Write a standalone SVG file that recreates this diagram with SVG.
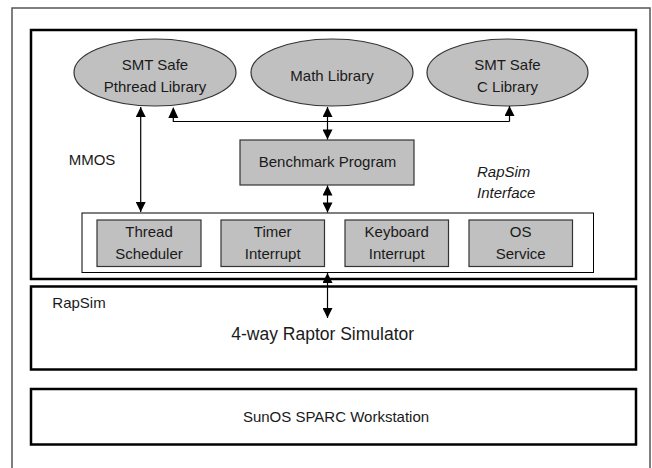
<svg xmlns="http://www.w3.org/2000/svg" width="652" height="468" viewBox="0 0 652 468">
<defs>
<style>
text{font-family:"Liberation Sans",Arial,sans-serif;font-size:15px;fill:#1a1a1a;text-anchor:middle}
.frame{fill:#fff;stroke:#555;stroke-width:1.5}
.thick{fill:none;stroke:#000;stroke-width:2.5}
.thin{fill:#fff;stroke:#000;stroke-width:1}
.gray{fill:#c0c0c0;stroke:#333;stroke-width:1.2}
.conn{fill:none;stroke:#000;stroke-width:1.2}
</style>
<marker id="ah" viewBox="0 0 10 10" refX="10" refY="5" markerWidth="11" markerHeight="10" markerUnits="userSpaceOnUse" orient="auto-start-reverse">
<path d="M0,0 L10,5 L0,10 Z" fill="#000"/>
</marker>
</defs>
<rect class="frame" x="12" y="8" width="638" height="470"/>
<g id="mmos">
<rect class="thick" x="31" y="30" width="605" height="249"/>
<text x="92" y="165">MMOS</text>
</g>
<g id="pthread">
<ellipse class="gray" cx="155" cy="72.5" rx="81" ry="33.5"/>
<text x="155" y="70">SMT Safe</text>
<text x="155" y="92">Pthread Library</text>
</g>
<g id="math">
<ellipse class="gray" cx="332" cy="72.5" rx="81" ry="33.5"/>
<text x="332" y="81">Math Library</text>
</g>
<g id="clib">
<ellipse class="gray" cx="507.5" cy="72.5" rx="80.5" ry="33.5"/>
<text x="507.5" y="70">SMT Safe</text>
<text x="507.5" y="92">C Library</text>
</g>
<g id="benchmark">
<rect class="gray" x="240" y="140" width="174" height="45"/>
<text x="327.5" y="167">Benchmark Program</text>
</g>
<g id="rapsim-interface">
<rect class="thin" x="82" y="213" width="511.5" height="59.5"/>
<text x="477" y="177" style="font-style:italic;text-anchor:start">RapSim</text>
<text x="477" y="198" style="font-style:italic;text-anchor:start">Interface</text>
</g>
<g id="thread">
<rect class="gray" x="97" y="220" width="104" height="46.5"/>
<text x="149" y="237">Thread</text>
<text x="149" y="259">Scheduler</text>
</g>
<g id="timer">
<rect class="gray" x="221" y="220" width="103.5" height="46.5"/>
<text x="272.7" y="237">Timer</text>
<text x="272.7" y="259">Interrupt</text>
</g>
<g id="keyboard">
<rect class="gray" x="345" y="220" width="103.5" height="46.5"/>
<text x="396.7" y="237">Keyboard</text>
<text x="396.7" y="259">Interrupt</text>
</g>
<g id="os">
<rect class="gray" x="469" y="220" width="103.5" height="46.5"/>
<text x="520.7" y="237">OS</text>
<text x="520.7" y="259">Service</text>
</g>
<g id="rapsim">
<rect class="thick" x="31" y="286.5" width="605" height="83"/>
<text x="79" y="308">RapSim</text>
<text x="322.7" y="340" style="font-size:17.5px">4-way Raptor Simulator</text>
</g>
<g id="sunos">
<rect class="thick" x="31" y="389" width="605" height="55.5"/>
<text x="336" y="422">SunOS SPARC Workstation</text>
</g>
<g id="connectors">
<line class="conn" x1="140.7" y1="212" x2="140.7" y2="107" marker-start="url(#ah)" marker-end="url(#ah)"/>
<polyline class="conn" points="509.5,121.5 173.3,121.5 173.3,110"/>
<path d="M173.3,107 l-5,11 h10 Z" fill="#000"/>
<line class="conn" x1="509.5" y1="121.5" x2="509.5" y2="106" marker-end="url(#ah)"/>
<line class="conn" x1="327.5" y1="107" x2="327.5" y2="139.5" marker-start="url(#ah)" marker-end="url(#ah)"/>
<line class="conn" x1="327.5" y1="185.5" x2="327.5" y2="212.5" marker-start="url(#ah)" marker-end="url(#ah)"/>
<line class="conn" x1="327.5" y1="273" x2="327.5" y2="318" marker-start="url(#ah)" marker-end="url(#ah)"/>
</g>
</svg>
